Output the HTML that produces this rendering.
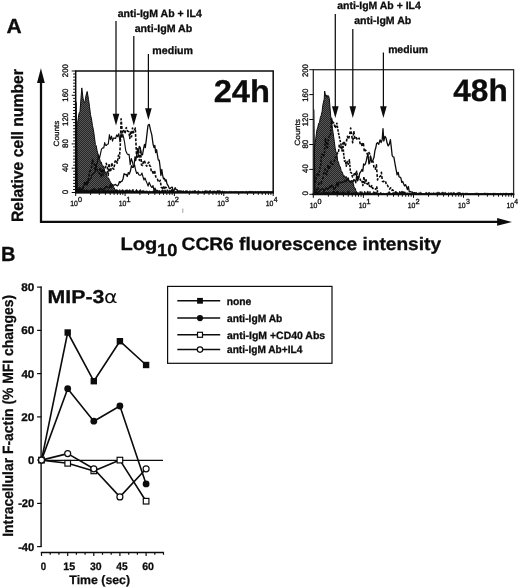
<!DOCTYPE html>
<html><head><meta charset="utf-8"><title>Figure</title>
<style>
html,body{margin:0;padding:0;background:#fff;}
body{width:520px;height:588px;overflow:hidden;}
svg{display:block;will-change:transform;}
text{text-rendering:geometricPrecision;}
</style></head>
<body>
<svg width="520" height="588" viewBox="0 0 520 588">
<defs>
<pattern id="dither" width="2" height="2" patternUnits="userSpaceOnUse">
<rect width="2" height="2" fill="#262626"/>
<rect width="1" height="1" fill="#585858"/>
<rect x="1" y="1" width="1" height="1" fill="#585858"/>
</pattern>
</defs>
<rect width="520" height="588" fill="#fff"/>
<g id="panelA-axes">
<text transform="translate(6.59 32.70) scale(1.0255 1)" font-family="Liberation Sans, sans-serif" font-size="20.5" font-weight="bold" fill="#0c0c0c" stroke="#0c0c0c" stroke-width="0.3">A</text>
<text transform="translate(0.96 260.50) scale(0.9760 1)" font-family="Liberation Sans, sans-serif" font-size="20.5" font-weight="bold" fill="#0c0c0c" stroke="#0c0c0c" stroke-width="0.3">B</text>
<path d="M41 81 L41 221.9 L498 221.9" fill="none" stroke="#0c0c0c" stroke-width="2.25"/>
<path d="M40.9 68.3 L37.0 82.9 L44.8 82.9 Z" fill="#0c0c0c"/>
<path d="M512 221.9 L497.1 218.1 L497.1 225.7 Z" fill="#0c0c0c"/>
<text transform="translate(22.90 222.07) rotate(-90) scale(0.9533 1)" font-family="Liberation Sans, sans-serif" font-size="16.5" font-weight="bold" fill="#0c0c0c" stroke="#0c0c0c" stroke-width="0.3">Relative cell number</text>
<text transform="translate(120.47 249.70) scale(1.1167 1)" font-family="Liberation Sans, sans-serif" font-size="18" font-weight="bold" fill="#0c0c0c" stroke="#0c0c0c" stroke-width="0.3">Log</text>
<text transform="translate(157.03 255.90) scale(1.0440 1)" font-family="Liberation Sans, sans-serif" font-size="17.5" font-weight="bold" fill="#0c0c0c" stroke="#0c0c0c" stroke-width="0.3">10</text>
<text transform="translate(181.60 249.70) scale(1.0631 1)" font-family="Liberation Sans, sans-serif" font-size="18" font-weight="bold" fill="#0c0c0c" stroke="#0c0c0c" stroke-width="0.3">CCR6 fluorescence intensity</text>
</g>
<g id="hist24">
<path d="M75.7 192.0 L75.9 134.8 L76.8 126.2 L77.6 123.4 L78.4 117.2 L79.2 112.8 L80.0 111.4 L81.0 98.2 L81.8 87.9 L83.0 98.1 L83.8 101.4 L84.5 102.5 L85.2 100.6 L86.0 95.6 L87.2 91.5 L88.5 99.4 L89.5 106.6 L90.5 114.8 L91.5 119.0 L92.4 125.3 L93.4 129.8 L94.4 136.8 L95.4 144.7 L96.2 145.7 L97.1 150.6 L98.0 154.1 L98.8 157.9 L99.7 158.8 L100.5 162.5 L101.4 162.2 L102.3 166.0 L103.2 165.8 L104.2 168.7 L105.1 173.4 L106.0 171.6 L106.9 176.3 L107.7 177.2 L108.6 178.0 L109.4 180.1 L110.3 181.6 L111.1 183.4 L112.0 183.8 L113.0 185.6 L114.0 187.6 L115.0 189.5 L116.0 192.0 L116.0 192.5 L75.7 192.5 Z" fill="url(#dither)" stroke="#0c0c0c" stroke-width="1.0" stroke-linejoin="round"/>
<path d="M77.0 190.8 L78.0 191.1 L79.0 188.2 L80.0 187.6 L81.0 188.8 L82.0 190.2 L83.0 188.0 L84.0 185.4 L85.0 184.7 L86.0 184.6 L87.0 185.2 L88.0 182.4 L89.0 180.5 L90.0 179.6 L91.0 178.4 L92.0 174.4 L93.0 174.1 L94.0 172.7 L95.1 172.5 L96.3 163.9 L97.4 163.0 L98.4 154.8 L99.4 158.5 L100.4 154.2 L101.5 149.1 L102.7 147.9 L103.8 147.9 L104.7 142.6 L105.5 145.3 L106.4 145.4 L107.3 144.2 L108.3 144.0 L109.4 134.7 L110.4 139.6 L111.5 136.2 L112.5 141.1 L113.5 138.0 L114.6 138.1 L115.6 138.5 L116.7 134.9 L117.7 136.7 L118.8 133.6 L120.0 141.8 L121.1 133.3 L122.0 137.4 L122.8 134.4 L123.7 137.9 L124.6 142.5 L125.7 150.5 L126.9 153.3 L128.0 154.6 L129.1 154.3 L130.2 164.6 L131.3 158.5 L132.4 161.7 L133.5 167.2 L134.6 164.9 L135.6 170.0 L136.7 173.5 L137.7 172.3 L138.8 174.8 L139.8 175.3 L140.9 175.1 L141.9 173.0 L142.9 176.5 L144.0 180.0 L145.0 177.9 L146.1 181.0 L147.1 183.4 L148.1 186.1 L149.1 182.3 L150.1 184.4 L151.0 186.4 L152.0 187.5 L153.0 185.6 L154.0 190.7 L155.0 188.0 L156.0 190.8 L157.0 190.1 L158.0 191.0" fill="none" stroke="#0c0c0c" stroke-width="1.15" stroke-linejoin="round"/>
<path d="M78.0 190.8 L78.9 189.4 L79.8 192.0 L80.8 189.8 L81.7 189.0 L82.7 188.2 L83.7 184.8 L84.7 182.8 L85.7 184.6 L86.6 180.6 L87.6 182.8 L88.6 178.5 L89.6 172.2 L90.6 169.8 L91.5 167.7 L92.5 159.6 L93.5 163.7 L94.4 164.3 L95.2 170.7 L96.1 165.1 L97.0 169.1 L98.1 172.7 L99.2 173.7 L100.2 167.8 L101.3 177.5 L102.3 168.9 L103.3 175.0 L104.3 168.6 L105.3 167.4 L106.3 163.4 L107.3 167.0 L108.2 175.4 L109.0 163.6 L109.9 171.8 L110.8 170.4 L111.8 162.8 L112.9 168.6 L113.9 169.2 L115.0 161.5 L116.0 160.0 L117.2 163.1 L118.5 155.2 L119.4 158.3 L120.3 145.3 L121.1 118.9 L122.4 132.8 L123.7 130.5 L125.0 133.5 L126.3 127.5 L127.6 131.1 L128.9 131.9 L129.8 138.5 L130.6 131.0 L131.5 136.8 L132.5 128.0 L133.5 132.7 L134.4 130.9 L135.3 128.1 L136.4 153.2 L137.4 157.1 L138.4 152.5 L139.4 160.4 L140.5 149.8 L141.5 165.0 L142.6 165.5 L143.6 160.5 L144.6 161.2 L145.7 164.5 L146.7 166.2 L147.8 163.5 L148.8 162.2 L149.7 165.8 L150.5 166.4 L151.4 172.2 L152.5 171.7 L153.6 174.4 L154.6 170.2 L155.7 176.7 L156.6 178.0 L157.4 179.0 L158.3 181.4 L159.2 182.2 L160.2 180.3 L161.3 187.3 L162.3 188.2 L163.4 186.1 L164.4 189.4 L165.3 187.3 L166.2 187.6 L167.1 190.0 L168.0 191.0" fill="none" stroke="#0c0c0c" stroke-width="1.6" stroke-dasharray="2.8 1.5" stroke-linejoin="round"/>
<path d="M78.0 192.0 L79.0 189.9 L80.0 191.2 L81.0 190.6 L82.0 190.0 L83.0 190.2 L84.0 190.2 L85.0 190.6 L86.0 191.0 L87.0 191.6 L88.0 190.7 L89.0 191.6 L90.0 190.9 L91.0 190.5 L92.0 190.1 L93.0 189.3 L94.0 188.6 L95.0 190.1 L96.0 189.9 L97.0 190.4 L98.0 190.4 L99.0 188.6 L100.0 189.2 L101.0 188.4 L102.1 190.5 L103.1 188.9 L104.2 188.9 L105.2 187.3 L106.2 186.4 L107.3 187.1 L108.3 187.4 L109.4 188.0 L110.4 184.7 L111.5 187.2 L112.5 185.1 L113.5 185.1 L114.5 185.0 L115.5 184.4 L116.5 185.5 L117.5 185.8 L118.5 184.5 L119.4 181.7 L120.2 182.5 L121.1 181.3 L122.0 181.3 L123.0 179.0 L124.1 173.7 L125.1 174.5 L126.2 174.3 L127.2 176.5 L128.3 172.6 L129.3 174.0 L130.4 171.1 L131.5 165.7 L132.4 167.4 L133.2 167.1 L134.1 165.0 L135.0 156.9 L135.8 160.5 L136.7 154.9 L137.6 148.6 L138.4 152.4 L139.3 146.4 L140.2 147.4 L141.3 154.1 L142.5 154.9 L143.6 148.3 L144.5 144.5 L145.3 147.6 L146.2 140.7 L147.1 132.9 L148.0 125.3 L149.3 124.4 L150.6 130.4 L151.8 134.8 L153.1 144.3 L154.0 147.6 L154.8 145.4 L155.7 152.6 L156.6 149.7 L157.4 155.0 L158.3 160.0 L159.2 160.2 L160.0 166.2 L160.9 175.5 L161.8 169.5 L162.6 175.2 L163.5 178.9 L164.4 178.3 L165.2 181.1 L166.1 179.7 L167.0 183.9 L168.1 185.6 L169.2 188.2 L170.2 188.7 L171.3 187.3 L172.3 187.1 L173.2 191.2 L174.2 190.4 L175.1 187.6 L176.1 189.8 L177.0 189.7 L178.0 191.0" fill="none" stroke="#0c0c0c" stroke-width="1.3" stroke-linejoin="round"/>
<path d="M75.7 192.5 L75.7 191.5 L76.6 190.3 L77.5 191.5 L78.4 190.0 L79.3 190.3 L80.2 190.9 L81.1 190.3 L82.0 190.4 L82.9 191.8 L83.8 190.5 L84.7 190.3 L85.6 190.5 L86.5 189.6 L87.4 190.0 L88.3 190.9 L89.2 191.3 L90.1 191.6 L91.0 189.8 L91.9 190.1 L92.8 190.3 L93.7 190.8 L94.6 190.6 L95.5 191.3 L96.4 190.5 L97.3 191.5 L98.2 190.3 L99.1 190.3 L100.0 190.2 L100.9 191.3 L101.8 191.7 L102.7 191.0 L103.6 190.1 L104.5 190.6 L105.4 190.0 L106.3 190.8 L107.2 190.9 L108.1 189.5 L109.0 191.5 L109.9 191.4 L110.8 190.4 L111.7 190.3 L112.6 190.8 L113.5 190.4 L114.4 190.8 L115.3 190.2 L116.2 189.6 L117.1 189.8 L118.0 190.2 L118.9 190.7 L119.8 189.4 L120.7 190.7 L121.6 190.3 L122.5 189.6 L123.4 190.1 L124.3 190.9 L125.2 190.0 L126.1 190.3 L127.0 189.5 L127.9 190.3 L128.8 190.5 L129.7 189.4 L130.6 190.5 L131.5 190.9 L132.4 189.5 L133.3 189.4 L134.2 191.5 L135.1 191.7 L136.0 189.7 L136.9 189.6 L137.8 190.9 L138.7 191.2 L139.6 190.1 L140.5 189.5 L141.4 191.3 L142.3 190.7 L143.2 190.2 L144.1 191.3 L145.0 190.8 L145.9 191.5 L146.8 190.7 L147.7 191.3 L148.6 191.7 L149.5 190.9 L150.4 191.5 L151.3 191.6 L152.2 191.5 L153.1 190.8 L154.0 191.1 L154.9 190.0 L155.8 190.8 L156.7 191.3 L157.6 191.4 L158.5 191.1 L159.4 190.0 L160.3 191.4 L161.2 190.7 L162.1 189.8 L163.0 189.7 L163.9 190.7 L164.8 189.7 L165.7 190.2 L166.6 191.3 L167.5 191.7 L168.4 191.5 L169.3 189.8 L170.2 190.9 L171.1 189.7 L172.0 189.4 L172.9 189.5 L173.8 190.7 L174.7 191.9 L175.6 191.5 L176.5 191.5 L177.4 190.9 L178.3 190.8 L179.2 190.4 L180.1 190.8 L181.0 190.4 L181.9 190.9 L182.8 191.1 L183.7 190.6 L184.6 191.5 L185.5 190.7 L186.4 190.7 L187.3 190.5 L188.2 191.8 L189.1 191.6 L190.0 190.4 L190.9 191.7 L191.8 191.2 L192.7 190.9 L193.6 191.1 L194.5 190.5 L195.4 190.4 L196.3 191.4 L197.2 191.7 L198.1 190.4 L199.0 191.2 L199.9 191.5 L200.8 191.7 L201.7 191.9 L202.6 191.0 L203.5 191.5 L204.4 191.0 L205.3 190.4 L206.2 191.1 L207.1 190.4 L208.0 191.8 L208.9 190.7 L209.8 190.7 L210.7 190.4 L211.6 191.9 L212.5 191.1 L213.4 191.0 L214.3 190.9 L215.2 191.1 L216.1 191.5 L217.0 190.5 L217.9 190.5 L218.8 190.8 L219.7 190.4 L220.6 191.0 L221.5 191.8 L222.4 190.8 L223.3 191.7 L224.2 191.4 L225.1 191.5 L226.0 191.8 L226.9 191.8 L227.8 191.9 L228.7 191.8 L229.6 191.3 L230.5 191.8 L231.4 191.4 L232.3 191.8 L233.2 191.7 L234.1 191.6 L235.0 191.7 L235.9 191.3 L236.8 191.8 L237.7 191.6 L238.6 191.8 L239.5 191.8 L240.4 191.5 L241.3 191.7 L242.2 191.6 L243.1 191.5 L244.0 191.8 L244.9 191.9 L245.8 191.5 L246.7 191.3 L247.6 191.9 L248.5 191.6 L249.4 191.3 L250.3 191.4 L251.2 191.3 L252.1 191.6 L253.0 191.3 L253.9 191.9 L254.8 191.6 L255.7 191.4 L256.6 191.7 L257.5 191.6 L258.4 191.6 L259.3 191.7 L260.2 191.4 L261.1 191.3 L262.0 191.8 L262.9 191.7 L263.8 191.4 L264.7 191.5 L265.6 191.4 L266.5 191.5 L267.4 191.4 L268.3 191.4 L269.2 191.5 L270.1 191.7 L271.0 191.8 L271.9 191.4 L272.8 191.4 L273.2 192.5 Z" fill="#0c0c0c" stroke="#0c0c0c" stroke-width="0.6"/>
<path d="M75.7 100.0 L76.8 103.0 L77.9 192.5 L75.7 192.5 Z" fill="#0c0c0c"/>
<rect x="75.7" y="71.0" width="197.5" height="121.5" fill="none" stroke="#0c0c0c" stroke-width="1.5"/>
<line x1="75.0" y1="192.5" x2="273.9" y2="192.5" stroke="#0c0c0c" stroke-width="2.1"/>
<line x1="71.7" y1="192.5" x2="75.7" y2="192.5" stroke="#0c0c0c" stroke-width="1.0"/>
<line x1="73.1" y1="189.5" x2="75.7" y2="189.5" stroke="#0c0c0c" stroke-width="1.0"/>
<line x1="73.1" y1="186.4" x2="75.7" y2="186.4" stroke="#0c0c0c" stroke-width="1.0"/>
<line x1="73.1" y1="183.4" x2="75.7" y2="183.4" stroke="#0c0c0c" stroke-width="1.0"/>
<line x1="73.1" y1="180.3" x2="75.7" y2="180.3" stroke="#0c0c0c" stroke-width="1.0"/>
<line x1="73.1" y1="177.3" x2="75.7" y2="177.3" stroke="#0c0c0c" stroke-width="1.0"/>
<line x1="73.1" y1="174.3" x2="75.7" y2="174.3" stroke="#0c0c0c" stroke-width="1.0"/>
<line x1="73.1" y1="171.2" x2="75.7" y2="171.2" stroke="#0c0c0c" stroke-width="1.0"/>
<line x1="71.7" y1="168.2" x2="75.7" y2="168.2" stroke="#0c0c0c" stroke-width="1.0"/>
<line x1="73.1" y1="165.2" x2="75.7" y2="165.2" stroke="#0c0c0c" stroke-width="1.0"/>
<line x1="73.1" y1="162.1" x2="75.7" y2="162.1" stroke="#0c0c0c" stroke-width="1.0"/>
<line x1="73.1" y1="159.1" x2="75.7" y2="159.1" stroke="#0c0c0c" stroke-width="1.0"/>
<line x1="73.1" y1="156.1" x2="75.7" y2="156.1" stroke="#0c0c0c" stroke-width="1.0"/>
<line x1="73.1" y1="153.0" x2="75.7" y2="153.0" stroke="#0c0c0c" stroke-width="1.0"/>
<line x1="73.1" y1="150.0" x2="75.7" y2="150.0" stroke="#0c0c0c" stroke-width="1.0"/>
<line x1="73.1" y1="146.9" x2="75.7" y2="146.9" stroke="#0c0c0c" stroke-width="1.0"/>
<line x1="71.7" y1="143.9" x2="75.7" y2="143.9" stroke="#0c0c0c" stroke-width="1.0"/>
<line x1="73.1" y1="140.9" x2="75.7" y2="140.9" stroke="#0c0c0c" stroke-width="1.0"/>
<line x1="73.1" y1="137.8" x2="75.7" y2="137.8" stroke="#0c0c0c" stroke-width="1.0"/>
<line x1="73.1" y1="134.8" x2="75.7" y2="134.8" stroke="#0c0c0c" stroke-width="1.0"/>
<line x1="73.1" y1="131.8" x2="75.7" y2="131.8" stroke="#0c0c0c" stroke-width="1.0"/>
<line x1="73.1" y1="128.7" x2="75.7" y2="128.7" stroke="#0c0c0c" stroke-width="1.0"/>
<line x1="73.1" y1="125.7" x2="75.7" y2="125.7" stroke="#0c0c0c" stroke-width="1.0"/>
<line x1="73.1" y1="122.6" x2="75.7" y2="122.6" stroke="#0c0c0c" stroke-width="1.0"/>
<line x1="71.7" y1="119.6" x2="75.7" y2="119.6" stroke="#0c0c0c" stroke-width="1.0"/>
<line x1="73.1" y1="116.6" x2="75.7" y2="116.6" stroke="#0c0c0c" stroke-width="1.0"/>
<line x1="73.1" y1="113.5" x2="75.7" y2="113.5" stroke="#0c0c0c" stroke-width="1.0"/>
<line x1="73.1" y1="110.5" x2="75.7" y2="110.5" stroke="#0c0c0c" stroke-width="1.0"/>
<line x1="73.1" y1="107.5" x2="75.7" y2="107.5" stroke="#0c0c0c" stroke-width="1.0"/>
<line x1="73.1" y1="104.4" x2="75.7" y2="104.4" stroke="#0c0c0c" stroke-width="1.0"/>
<line x1="73.1" y1="101.4" x2="75.7" y2="101.4" stroke="#0c0c0c" stroke-width="1.0"/>
<line x1="73.1" y1="98.3" x2="75.7" y2="98.3" stroke="#0c0c0c" stroke-width="1.0"/>
<line x1="71.7" y1="95.3" x2="75.7" y2="95.3" stroke="#0c0c0c" stroke-width="1.0"/>
<line x1="73.1" y1="92.3" x2="75.7" y2="92.3" stroke="#0c0c0c" stroke-width="1.0"/>
<line x1="73.1" y1="89.2" x2="75.7" y2="89.2" stroke="#0c0c0c" stroke-width="1.0"/>
<line x1="73.1" y1="86.2" x2="75.7" y2="86.2" stroke="#0c0c0c" stroke-width="1.0"/>
<line x1="73.1" y1="83.2" x2="75.7" y2="83.2" stroke="#0c0c0c" stroke-width="1.0"/>
<line x1="73.1" y1="80.1" x2="75.7" y2="80.1" stroke="#0c0c0c" stroke-width="1.0"/>
<line x1="73.1" y1="77.1" x2="75.7" y2="77.1" stroke="#0c0c0c" stroke-width="1.0"/>
<line x1="73.1" y1="74.0" x2="75.7" y2="74.0" stroke="#0c0c0c" stroke-width="1.0"/>
<line x1="71.7" y1="71.0" x2="75.7" y2="71.0" stroke="#0c0c0c" stroke-width="1.0"/>
<text transform="translate(68.40 194.21) rotate(-90) scale(0.9967 1)" font-family="Liberation Sans, sans-serif" font-size="8.0" fill="#0c0c0c" stroke="#0c0c0c" stroke-width="0.3">0</text>
<text transform="translate(68.40 172.02) rotate(-90) scale(0.9791 1)" font-family="Liberation Sans, sans-serif" font-size="8.0" fill="#0c0c0c" stroke="#0c0c0c" stroke-width="0.3">40</text>
<text transform="translate(68.40 147.89) rotate(-90) scale(0.9939 1)" font-family="Liberation Sans, sans-serif" font-size="8.0" fill="#0c0c0c" stroke="#0c0c0c" stroke-width="0.3">80</text>
<text transform="translate(68.40 125.94) rotate(-90) scale(0.9859 1)" font-family="Liberation Sans, sans-serif" font-size="8.0" fill="#0c0c0c" stroke="#0c0c0c" stroke-width="0.3">120</text>
<text transform="translate(68.40 101.68) rotate(-90) scale(0.9859 1)" font-family="Liberation Sans, sans-serif" font-size="8.0" fill="#0c0c0c" stroke="#0c0c0c" stroke-width="0.3">160</text>
<text transform="translate(68.40 77.16) rotate(-90) scale(0.9663 1)" font-family="Liberation Sans, sans-serif" font-size="8.0" fill="#0c0c0c" stroke="#0c0c0c" stroke-width="0.3">200</text>
<text transform="translate(59.20 146.40) rotate(-90) scale(1.0695 1)" font-family="Liberation Sans, sans-serif" font-size="7.6" fill="#0c0c0c" stroke="#0c0c0c" stroke-width="0.25">Counts</text>
<line x1="75.7" y1="192.5" x2="75.7" y2="196.0" stroke="#0c0c0c" stroke-width="1.0"/>
<line x1="90.6" y1="192.5" x2="90.6" y2="194.9" stroke="#0c0c0c" stroke-width="1.0"/>
<line x1="99.3" y1="192.5" x2="99.3" y2="194.9" stroke="#0c0c0c" stroke-width="1.0"/>
<line x1="105.4" y1="192.5" x2="105.4" y2="194.9" stroke="#0c0c0c" stroke-width="1.0"/>
<line x1="110.2" y1="192.5" x2="110.2" y2="194.9" stroke="#0c0c0c" stroke-width="1.0"/>
<line x1="114.1" y1="192.5" x2="114.1" y2="194.9" stroke="#0c0c0c" stroke-width="1.0"/>
<line x1="117.4" y1="192.5" x2="117.4" y2="194.9" stroke="#0c0c0c" stroke-width="1.0"/>
<line x1="120.3" y1="192.5" x2="120.3" y2="194.9" stroke="#0c0c0c" stroke-width="1.0"/>
<line x1="122.8" y1="192.5" x2="122.8" y2="194.9" stroke="#0c0c0c" stroke-width="1.0"/>
<line x1="125.1" y1="192.5" x2="125.1" y2="196.0" stroke="#0c0c0c" stroke-width="1.0"/>
<line x1="139.9" y1="192.5" x2="139.9" y2="194.9" stroke="#0c0c0c" stroke-width="1.0"/>
<line x1="148.6" y1="192.5" x2="148.6" y2="194.9" stroke="#0c0c0c" stroke-width="1.0"/>
<line x1="154.8" y1="192.5" x2="154.8" y2="194.9" stroke="#0c0c0c" stroke-width="1.0"/>
<line x1="159.6" y1="192.5" x2="159.6" y2="194.9" stroke="#0c0c0c" stroke-width="1.0"/>
<line x1="163.5" y1="192.5" x2="163.5" y2="194.9" stroke="#0c0c0c" stroke-width="1.0"/>
<line x1="166.8" y1="192.5" x2="166.8" y2="194.9" stroke="#0c0c0c" stroke-width="1.0"/>
<line x1="169.7" y1="192.5" x2="169.7" y2="194.9" stroke="#0c0c0c" stroke-width="1.0"/>
<line x1="172.2" y1="192.5" x2="172.2" y2="194.9" stroke="#0c0c0c" stroke-width="1.0"/>
<line x1="174.4" y1="192.5" x2="174.4" y2="196.0" stroke="#0c0c0c" stroke-width="1.0"/>
<line x1="189.3" y1="192.5" x2="189.3" y2="194.9" stroke="#0c0c0c" stroke-width="1.0"/>
<line x1="198.0" y1="192.5" x2="198.0" y2="194.9" stroke="#0c0c0c" stroke-width="1.0"/>
<line x1="204.2" y1="192.5" x2="204.2" y2="194.9" stroke="#0c0c0c" stroke-width="1.0"/>
<line x1="209.0" y1="192.5" x2="209.0" y2="194.9" stroke="#0c0c0c" stroke-width="1.0"/>
<line x1="212.9" y1="192.5" x2="212.9" y2="194.9" stroke="#0c0c0c" stroke-width="1.0"/>
<line x1="216.2" y1="192.5" x2="216.2" y2="194.9" stroke="#0c0c0c" stroke-width="1.0"/>
<line x1="219.0" y1="192.5" x2="219.0" y2="194.9" stroke="#0c0c0c" stroke-width="1.0"/>
<line x1="221.6" y1="192.5" x2="221.6" y2="194.9" stroke="#0c0c0c" stroke-width="1.0"/>
<line x1="223.8" y1="192.5" x2="223.8" y2="196.0" stroke="#0c0c0c" stroke-width="1.0"/>
<line x1="238.7" y1="192.5" x2="238.7" y2="194.9" stroke="#0c0c0c" stroke-width="1.0"/>
<line x1="247.4" y1="192.5" x2="247.4" y2="194.9" stroke="#0c0c0c" stroke-width="1.0"/>
<line x1="253.6" y1="192.5" x2="253.6" y2="194.9" stroke="#0c0c0c" stroke-width="1.0"/>
<line x1="258.3" y1="192.5" x2="258.3" y2="194.9" stroke="#0c0c0c" stroke-width="1.0"/>
<line x1="262.2" y1="192.5" x2="262.2" y2="194.9" stroke="#0c0c0c" stroke-width="1.0"/>
<line x1="265.6" y1="192.5" x2="265.6" y2="194.9" stroke="#0c0c0c" stroke-width="1.0"/>
<line x1="268.4" y1="192.5" x2="268.4" y2="194.9" stroke="#0c0c0c" stroke-width="1.0"/>
<line x1="270.9" y1="192.5" x2="270.9" y2="194.9" stroke="#0c0c0c" stroke-width="1.0"/>
<line x1="273.2" y1="192.5" x2="273.2" y2="196.0" stroke="#0c0c0c" stroke-width="1.0"/>
<text transform="translate(70.29 205.90) scale(0.9049 1)" font-family="Liberation Sans, sans-serif" font-size="7.6" fill="#0c0c0c" stroke="#0c0c0c" stroke-width="0.3">10</text>
<text transform="translate(78.10 201.90) scale(0.9714 1)" font-family="Liberation Sans, sans-serif" font-size="7.4" fill="#0c0c0c" stroke="#0c0c0c" stroke-width="0.3">0</text>
<text transform="translate(118.67 205.90) scale(0.9049 1)" font-family="Liberation Sans, sans-serif" font-size="7.6" fill="#0c0c0c" stroke="#0c0c0c" stroke-width="0.3">10</text>
<text transform="translate(126.17 201.90) scale(1.0667 1)" font-family="Liberation Sans, sans-serif" font-size="7.4" fill="#0c0c0c" stroke="#0c0c0c" stroke-width="0.3">1</text>
<text transform="translate(167.14 205.90) scale(0.9049 1)" font-family="Liberation Sans, sans-serif" font-size="7.6" fill="#0c0c0c" stroke="#0c0c0c" stroke-width="0.3">10</text>
<text transform="translate(174.87 201.90) scale(1.0074 1)" font-family="Liberation Sans, sans-serif" font-size="7.4" fill="#0c0c0c" stroke="#0c0c0c" stroke-width="0.3">2</text>
<text transform="translate(217.22 205.90) scale(0.9049 1)" font-family="Liberation Sans, sans-serif" font-size="7.6" fill="#0c0c0c" stroke="#0c0c0c" stroke-width="0.3">10</text>
<text transform="translate(225.09 201.90) scale(0.9544 1)" font-family="Liberation Sans, sans-serif" font-size="7.4" fill="#0c0c0c" stroke="#0c0c0c" stroke-width="0.3">3</text>
<text transform="translate(265.79 205.90) scale(0.9049 1)" font-family="Liberation Sans, sans-serif" font-size="7.6" fill="#0c0c0c" stroke="#0c0c0c" stroke-width="0.3">10</text>
<text transform="translate(273.73 201.90) scale(0.9220 1)" font-family="Liberation Sans, sans-serif" font-size="7.4" fill="#0c0c0c" stroke="#0c0c0c" stroke-width="0.3">4</text>
<text transform="translate(213.70 101.80) scale(1.0368 1)" font-family="Liberation Sans, sans-serif" font-size="31.5" font-weight="bold" fill="#0c0c0c" stroke="#0c0c0c" stroke-width="0.3">24h</text>
<line x1="116.0" y1="21.0" x2="116.0" y2="117.5" stroke="#0c0c0c" stroke-width="1.25"/>
<path d="M116.0 125.5 L112.7 113.7 L119.3 113.7 Z" fill="#0c0c0c"/>
<line x1="133.8" y1="36.0" x2="133.8" y2="117.5" stroke="#0c0c0c" stroke-width="1.25"/>
<path d="M133.8 125.5 L130.5 113.7 L137.1 113.7 Z" fill="#0c0c0c"/>
<line x1="148.4" y1="54.0" x2="148.4" y2="112.0" stroke="#0c0c0c" stroke-width="1.25"/>
<path d="M148.4 120.0 L145.1 108.2 L151.7 108.2 Z" fill="#0c0c0c"/>
<text transform="translate(117.69 16.70) scale(0.9933 1)" font-family="Liberation Sans, sans-serif" font-size="10.6" font-weight="bold" fill="#0c0c0c" stroke="#0c0c0c" stroke-width="0.3">anti-IgM Ab + IL4</text>
<text transform="translate(134.69 32.00) scale(1.0055 1)" font-family="Liberation Sans, sans-serif" font-size="10.6" font-weight="bold" fill="#0c0c0c" stroke="#0c0c0c" stroke-width="0.3">anti-IgM Ab</text>
<text transform="translate(152.31 53.80) scale(1.0016 1)" font-family="Liberation Sans, sans-serif" font-size="10.6" font-weight="bold" fill="#0c0c0c" stroke="#0c0c0c" stroke-width="0.3">medium</text>
<line x1="182.8" y1="208.5" x2="182.8" y2="212.8" stroke="#999" stroke-width="0.9"/>
</g>
<g id="hist48">
<path d="M313.7 193.8 L313.9 150.5 L315.2 142.9 L316.1 136.0 L316.9 130.1 L317.8 127.2 L318.7 123.2 L319.5 122.3 L320.4 117.3 L321.2 115.4 L322.1 111.4 L323.0 104.2 L324.2 99.2 L324.7 91.1 L325.5 95.9 L326.2 94.9 L327.0 97.7 L327.8 95.3 L328.5 95.9 L329.3 98.4 L330.1 108.8 L330.8 117.5 L331.7 122.6 L332.5 128.7 L333.4 135.0 L334.3 141.4 L335.1 147.8 L336.0 152.3 L336.8 153.4 L337.7 161.0 L338.5 162.1 L339.4 166.0 L340.2 166.5 L341.1 170.5 L342.0 171.8 L342.9 174.0 L343.7 177.2 L344.6 175.7 L345.5 177.7 L346.3 176.5 L347.2 178.6 L348.1 180.2 L348.9 180.2 L349.8 181.4 L350.7 181.9 L351.6 181.6 L352.4 183.8 L353.3 183.3 L354.1 187.5 L355.0 187.9 L355.9 190.7 L356.7 192.4 L357.5 194.2 L357.5 194.3 L313.7 194.3 Z" fill="url(#dither)" stroke="#0c0c0c" stroke-width="1.0" stroke-linejoin="round"/>
<path d="M315.4 182.9 L316.5 175.4 L317.6 173.9 L318.7 175.6 L319.7 169.1 L320.6 165.6 L321.6 154.4 L322.5 154.3 L323.5 156.4 L324.4 154.2 L325.4 138.6 L326.4 143.1 L327.3 148.8 L328.4 138.1 L329.5 136.3 L330.5 135.9 L331.6 118.4 L332.5 123.2 L333.4 122.4 L334.3 124.7 L335.1 127.9 L336.0 126.1 L336.9 123.3 L337.7 128.8 L338.8 134.6 L340.0 140.2 L341.1 144.9 L342.0 151.0 L342.8 143.3 L343.7 154.3 L344.6 161.3 L345.4 160.6 L346.3 166.2 L347.2 161.6 L348.3 164.2 L349.4 159.7 L350.4 172.0 L351.5 173.1 L352.5 177.0 L353.6 175.7 L354.6 172.6 L355.7 174.7 L356.7 171.2 L357.7 178.8 L358.8 176.7 L359.8 178.6 L360.9 180.9 L361.9 180.7 L362.9 185.5 L363.9 176.9 L364.9 183.3 L365.8 178.7 L366.8 183.1 L367.8 185.1 L368.8 182.7 L369.8 187.2 L370.8 187.3 L371.8 185.6 L372.7 188.4 L373.7 188.2 L374.7 188.3 L375.7 189.3 L376.8 186.9 L377.8 193.8 L378.9 193.8 L379.9 193.8 L380.9 193.8 L382.0 193.6" fill="none" stroke="#0c0c0c" stroke-width="1.6" stroke-dasharray="2.4 1.2" stroke-linejoin="round"/>
<path d="M316.0 191.5 L317.0 188.1 L318.0 189.4 L319.0 182.9 L320.0 182.6 L321.0 183.6 L322.0 180.6 L323.0 177.5 L324.0 172.3 L325.0 169.1 L326.0 173.6 L327.0 174.7 L328.0 164.8 L329.0 169.7 L330.0 166.5 L331.0 161.3 L332.0 164.1 L333.0 164.5 L334.0 163.5 L335.0 157.4 L336.1 157.8 L337.2 152.9 L338.3 153.7 L339.4 144.1 L340.3 147.9 L341.1 149.4 L342.0 146.8 L343.1 145.0 L344.1 141.0 L345.2 146.3 L346.3 142.0 L347.4 136.3 L348.5 139.4 L349.6 134.9 L350.7 128.0 L351.7 135.1 L352.7 142.8 L353.8 131.1 L354.8 138.3 L355.8 136.7 L356.9 138.9 L358.0 140.1 L359.1 138.1 L360.2 144.3 L361.2 143.1 L362.3 146.8 L363.3 142.4 L364.4 152.1 L365.4 150.0 L366.5 151.5 L367.5 154.6 L368.6 152.0 L369.7 153.8 L370.8 159.1 L372.0 160.7 L373.1 161.9 L374.2 168.7 L375.3 169.2 L376.4 164.9 L377.5 179.9 L378.5 176.9 L379.5 176.8 L380.5 176.1 L381.4 172.4 L382.4 181.3 L383.4 181.7 L384.4 180.9 L385.4 180.5 L386.5 185.5 L387.5 185.2 L388.6 187.9 L389.6 189.1 L390.7 187.8 L391.7 190.3 L392.8 189.8 L393.8 191.4 L394.9 191.1 L395.9 192.4 L397.0 193.6" fill="none" stroke="#0c0c0c" stroke-width="1.6" stroke-dasharray="2.8 1.9" stroke-linejoin="round"/>
<path d="M316.0 193.0 L317.1 192.6 L318.2 191.7 L319.3 191.4 L320.4 189.7 L321.4 188.9 L322.5 188.8 L323.5 189.9 L324.6 190.6 L325.6 188.3 L326.6 187.7 L327.7 189.5 L328.7 188.4 L329.8 186.0 L330.8 187.8 L331.8 185.0 L332.9 185.9 L333.9 189.5 L334.9 189.1 L336.0 185.6 L337.0 182.4 L338.0 186.4 L339.0 182.2 L340.1 182.7 L341.1 182.9 L342.1 182.0 L343.1 182.3 L344.1 181.8 L345.2 180.3 L346.2 181.7 L347.2 179.0 L348.2 178.0 L349.1 181.3 L350.1 182.1 L351.0 180.8 L352.0 180.6 L352.9 182.5 L353.9 179.5 L354.8 180.2 L355.8 182.8 L356.7 175.2 L357.7 180.8 L358.8 177.2 L359.8 173.0 L360.9 171.7 L361.9 169.4 L362.8 171.3 L363.6 164.0 L364.5 165.1 L365.4 163.9 L366.3 160.7 L367.1 156.7 L368.0 153.9 L368.9 163.9 L369.7 163.1 L370.6 156.0 L371.7 162.2 L372.9 160.3 L374.0 157.3 L374.9 150.6 L375.8 147.8 L376.6 143.4 L377.5 142.7 L378.8 144.2 L380.0 139.8 L381.1 142.6 L382.2 139.7 L383.0 128.6 L383.8 141.0 L385.0 136.3 L386.1 138.3 L387.2 143.3 L388.2 145.9 L389.3 144.1 L390.4 139.6 L391.3 147.3 L392.2 155.7 L393.1 156.9 L393.9 157.1 L394.8 162.6 L395.9 168.7 L397.1 174.8 L398.2 172.3 L399.1 176.9 L399.9 177.1 L400.8 177.7 L401.8 182.3 L402.7 181.5 L403.6 183.7 L404.6 185.9 L405.6 184.7 L406.5 186.8 L407.4 189.6 L408.4 186.5 L409.3 191.9 L410.3 191.5 L411.2 192.2 L412.2 191.9 L413.1 193.5 L414.1 192.7 L415.0 192.7 L416.0 193.6" fill="none" stroke="#0c0c0c" stroke-width="1.3" stroke-linejoin="round"/>
<path d="M313.3 194.3 L313.3 191.3 L314.2 192.7 L315.1 191.6 L316.0 193.1 L316.9 192.4 L317.8 193.0 L318.7 192.3 L319.6 193.5 L320.5 192.6 L321.4 192.9 L322.3 193.6 L323.2 191.6 L324.1 191.3 L325.0 193.3 L325.9 192.1 L326.8 192.3 L327.7 192.6 L328.6 192.2 L329.5 192.0 L330.4 193.0 L331.3 192.8 L332.2 192.4 L333.1 191.1 L334.0 191.3 L334.9 191.7 L335.8 192.5 L336.7 191.3 L337.6 191.2 L338.5 191.4 L339.4 193.2 L340.3 192.6 L341.2 193.1 L342.1 192.5 L343.0 191.5 L343.9 192.4 L344.8 192.8 L345.7 193.3 L346.6 193.3 L347.5 191.6 L348.4 191.2 L349.3 191.4 L350.2 193.7 L351.1 193.0 L352.0 193.3 L352.9 192.5 L353.8 193.2 L354.7 192.4 L355.6 192.5 L356.5 192.1 L357.4 192.4 L358.3 192.4 L359.2 193.6 L360.1 191.2 L361.0 192.6 L361.9 191.4 L362.8 192.9 L363.7 193.5 L364.6 191.1 L365.5 192.4 L366.4 193.3 L367.3 191.2 L368.2 191.3 L369.1 193.4 L370.0 191.2 L370.9 193.4 L371.8 193.4 L372.7 193.3 L373.6 191.4 L374.5 192.1 L375.4 192.3 L376.3 191.9 L377.2 192.9 L378.1 193.5 L379.0 193.5 L379.9 193.1 L380.8 192.2 L381.7 193.5 L382.6 193.6 L383.5 193.2 L384.4 193.7 L385.3 193.6 L386.2 193.3 L387.1 193.4 L388.0 192.8 L388.9 191.5 L389.8 192.0 L390.7 193.7 L391.6 193.5 L392.5 192.8 L393.4 192.5 L394.3 192.5 L395.2 192.3 L396.1 191.8 L397.0 192.0 L397.9 193.1 L398.8 193.0 L399.7 191.1 L400.6 192.3 L401.5 191.3 L402.4 191.3 L403.3 191.6 L404.2 192.1 L405.1 191.8 L406.0 192.9 L406.9 193.2 L407.8 192.7 L408.7 193.2 L409.6 193.2 L410.5 193.4 L411.4 193.2 L412.3 193.7 L413.2 193.3 L414.1 192.5 L415.0 193.6 L415.9 192.6 L416.8 192.6 L417.7 193.4 L418.6 192.9 L419.5 192.7 L420.4 192.2 L421.3 192.7 L422.2 193.5 L423.1 193.6 L424.0 193.4 L424.9 193.5 L425.8 192.4 L426.7 192.3 L427.6 193.5 L428.5 192.5 L429.4 192.3 L430.3 193.3 L431.2 192.9 L432.1 193.3 L433.0 193.0 L433.9 192.5 L434.8 193.4 L435.7 192.9 L436.6 192.7 L437.5 192.3 L438.4 192.2 L439.3 192.3 L440.2 193.1 L441.1 193.1 L442.0 192.2 L442.9 192.3 L443.8 192.4 L444.7 192.7 L445.6 192.2 L446.5 193.5 L447.4 193.4 L448.3 192.5 L449.2 193.3 L450.1 192.7 L451.0 192.8 L451.9 192.7 L452.8 193.3 L453.7 192.2 L454.6 192.8 L455.5 193.7 L456.4 193.2 L457.3 192.9 L458.2 192.3 L459.1 192.7 L460.0 192.2 L460.9 193.2 L461.8 193.6 L462.7 193.0 L463.6 193.2 L464.5 193.4 L465.4 193.2 L466.3 193.2 L467.2 193.2 L468.1 193.4 L469.0 193.7 L469.9 193.4 L470.8 193.6 L471.7 193.5 L472.6 193.6 L473.5 193.5 L474.4 193.4 L475.3 193.3 L476.2 193.1 L477.1 193.2 L478.0 193.2 L478.9 193.6 L479.8 193.4 L480.7 193.5 L481.6 193.4 L482.5 193.6 L483.4 193.4 L484.3 193.1 L485.2 193.2 L486.1 193.2 L487.0 193.6 L487.9 193.2 L488.8 193.5 L489.7 193.5 L490.6 193.4 L491.5 193.5 L492.4 193.5 L493.3 193.2 L494.2 193.3 L495.1 193.4 L496.0 193.4 L496.9 193.7 L497.8 193.6 L498.7 193.7 L499.6 193.5 L500.5 193.2 L501.4 193.7 L502.3 193.5 L503.2 193.2 L504.1 193.6 L505.0 193.4 L505.9 193.2 L506.8 193.2 L507.7 193.5 L508.6 193.5 L509.5 193.5 L510.4 193.5 L511.3 193.1 L512.2 193.4 L513.1 193.4 L513.6 194.3 Z" fill="#0c0c0c" stroke="#0c0c0c" stroke-width="0.6"/>
<path d="M313.3 107.0 L314.4 110.0 L315.5 194.3 L313.3 194.3 Z" fill="#0c0c0c"/>
<rect x="313.3" y="69.7" width="200.3" height="124.6" fill="none" stroke="#2a2a2a" stroke-width="1.3"/>
<line x1="312.6" y1="194.3" x2="514.3" y2="194.3" stroke="#0c0c0c" stroke-width="2.1"/>
<line x1="309.3" y1="194.3" x2="313.3" y2="194.3" stroke="#0c0c0c" stroke-width="1.0"/>
<line x1="309.3" y1="169.4" x2="313.3" y2="169.4" stroke="#0c0c0c" stroke-width="1.0"/>
<line x1="309.3" y1="144.5" x2="313.3" y2="144.5" stroke="#0c0c0c" stroke-width="1.0"/>
<line x1="309.3" y1="119.5" x2="313.3" y2="119.5" stroke="#0c0c0c" stroke-width="1.0"/>
<line x1="309.3" y1="94.6" x2="313.3" y2="94.6" stroke="#0c0c0c" stroke-width="1.0"/>
<line x1="309.3" y1="69.7" x2="313.3" y2="69.7" stroke="#0c0c0c" stroke-width="1.0"/>
<text transform="translate(308.30 195.41) rotate(-90) scale(0.9967 1)" font-family="Liberation Sans, sans-serif" font-size="8.0" fill="#0c0c0c" stroke="#0c0c0c" stroke-width="0.3">0</text>
<text transform="translate(308.30 172.96) rotate(-90) scale(0.9791 1)" font-family="Liberation Sans, sans-serif" font-size="8.0" fill="#0c0c0c" stroke="#0c0c0c" stroke-width="0.3">40</text>
<text transform="translate(308.30 148.57) rotate(-90) scale(0.9939 1)" font-family="Liberation Sans, sans-serif" font-size="8.0" fill="#0c0c0c" stroke="#0c0c0c" stroke-width="0.3">80</text>
<text transform="translate(308.30 126.36) rotate(-90) scale(0.9859 1)" font-family="Liberation Sans, sans-serif" font-size="8.0" fill="#0c0c0c" stroke="#0c0c0c" stroke-width="0.3">120</text>
<text transform="translate(308.30 101.84) rotate(-90) scale(0.9859 1)" font-family="Liberation Sans, sans-serif" font-size="8.0" fill="#0c0c0c" stroke="#0c0c0c" stroke-width="0.3">160</text>
<text transform="translate(308.30 77.06) rotate(-90) scale(0.9663 1)" font-family="Liberation Sans, sans-serif" font-size="8.0" fill="#0c0c0c" stroke="#0c0c0c" stroke-width="0.3">200</text>
<text transform="translate(299.50 145.82) rotate(-90) scale(1.1162 1)" font-family="Liberation Sans, sans-serif" font-size="7.6" fill="#0c0c0c" stroke="#0c0c0c" stroke-width="0.25">Counts</text>
<line x1="313.3" y1="194.3" x2="313.3" y2="197.8" stroke="#0c0c0c" stroke-width="1.0"/>
<line x1="328.4" y1="194.3" x2="328.4" y2="196.7" stroke="#0c0c0c" stroke-width="1.0"/>
<line x1="337.2" y1="194.3" x2="337.2" y2="196.7" stroke="#0c0c0c" stroke-width="1.0"/>
<line x1="343.4" y1="194.3" x2="343.4" y2="196.7" stroke="#0c0c0c" stroke-width="1.0"/>
<line x1="348.3" y1="194.3" x2="348.3" y2="196.7" stroke="#0c0c0c" stroke-width="1.0"/>
<line x1="352.3" y1="194.3" x2="352.3" y2="196.7" stroke="#0c0c0c" stroke-width="1.0"/>
<line x1="355.6" y1="194.3" x2="355.6" y2="196.7" stroke="#0c0c0c" stroke-width="1.0"/>
<line x1="358.5" y1="194.3" x2="358.5" y2="196.7" stroke="#0c0c0c" stroke-width="1.0"/>
<line x1="361.1" y1="194.3" x2="361.1" y2="196.7" stroke="#0c0c0c" stroke-width="1.0"/>
<line x1="363.4" y1="194.3" x2="363.4" y2="197.8" stroke="#0c0c0c" stroke-width="1.0"/>
<line x1="378.4" y1="194.3" x2="378.4" y2="196.7" stroke="#0c0c0c" stroke-width="1.0"/>
<line x1="387.3" y1="194.3" x2="387.3" y2="196.7" stroke="#0c0c0c" stroke-width="1.0"/>
<line x1="393.5" y1="194.3" x2="393.5" y2="196.7" stroke="#0c0c0c" stroke-width="1.0"/>
<line x1="398.4" y1="194.3" x2="398.4" y2="196.7" stroke="#0c0c0c" stroke-width="1.0"/>
<line x1="402.3" y1="194.3" x2="402.3" y2="196.7" stroke="#0c0c0c" stroke-width="1.0"/>
<line x1="405.7" y1="194.3" x2="405.7" y2="196.7" stroke="#0c0c0c" stroke-width="1.0"/>
<line x1="408.6" y1="194.3" x2="408.6" y2="196.7" stroke="#0c0c0c" stroke-width="1.0"/>
<line x1="411.2" y1="194.3" x2="411.2" y2="196.7" stroke="#0c0c0c" stroke-width="1.0"/>
<line x1="413.5" y1="194.3" x2="413.5" y2="197.8" stroke="#0c0c0c" stroke-width="1.0"/>
<line x1="428.5" y1="194.3" x2="428.5" y2="196.7" stroke="#0c0c0c" stroke-width="1.0"/>
<line x1="437.3" y1="194.3" x2="437.3" y2="196.7" stroke="#0c0c0c" stroke-width="1.0"/>
<line x1="443.6" y1="194.3" x2="443.6" y2="196.7" stroke="#0c0c0c" stroke-width="1.0"/>
<line x1="448.5" y1="194.3" x2="448.5" y2="196.7" stroke="#0c0c0c" stroke-width="1.0"/>
<line x1="452.4" y1="194.3" x2="452.4" y2="196.7" stroke="#0c0c0c" stroke-width="1.0"/>
<line x1="455.8" y1="194.3" x2="455.8" y2="196.7" stroke="#0c0c0c" stroke-width="1.0"/>
<line x1="458.7" y1="194.3" x2="458.7" y2="196.7" stroke="#0c0c0c" stroke-width="1.0"/>
<line x1="461.2" y1="194.3" x2="461.2" y2="196.7" stroke="#0c0c0c" stroke-width="1.0"/>
<line x1="463.5" y1="194.3" x2="463.5" y2="197.8" stroke="#0c0c0c" stroke-width="1.0"/>
<line x1="478.6" y1="194.3" x2="478.6" y2="196.7" stroke="#0c0c0c" stroke-width="1.0"/>
<line x1="487.4" y1="194.3" x2="487.4" y2="196.7" stroke="#0c0c0c" stroke-width="1.0"/>
<line x1="493.7" y1="194.3" x2="493.7" y2="196.7" stroke="#0c0c0c" stroke-width="1.0"/>
<line x1="498.5" y1="194.3" x2="498.5" y2="196.7" stroke="#0c0c0c" stroke-width="1.0"/>
<line x1="502.5" y1="194.3" x2="502.5" y2="196.7" stroke="#0c0c0c" stroke-width="1.0"/>
<line x1="505.8" y1="194.3" x2="505.8" y2="196.7" stroke="#0c0c0c" stroke-width="1.0"/>
<line x1="508.7" y1="194.3" x2="508.7" y2="196.7" stroke="#0c0c0c" stroke-width="1.0"/>
<line x1="511.3" y1="194.3" x2="511.3" y2="196.7" stroke="#0c0c0c" stroke-width="1.0"/>
<line x1="513.6" y1="194.3" x2="513.6" y2="197.8" stroke="#0c0c0c" stroke-width="1.0"/>
<text transform="translate(309.69 207.70) scale(0.9049 1)" font-family="Liberation Sans, sans-serif" font-size="7.6" fill="#0c0c0c" stroke="#0c0c0c" stroke-width="0.3">10</text>
<text transform="translate(317.50 203.70) scale(0.9714 1)" font-family="Liberation Sans, sans-serif" font-size="7.4" fill="#0c0c0c" stroke="#0c0c0c" stroke-width="0.3">0</text>
<text transform="translate(358.67 207.70) scale(0.9049 1)" font-family="Liberation Sans, sans-serif" font-size="7.6" fill="#0c0c0c" stroke="#0c0c0c" stroke-width="0.3">10</text>
<text transform="translate(366.18 203.70) scale(1.0667 1)" font-family="Liberation Sans, sans-serif" font-size="7.4" fill="#0c0c0c" stroke="#0c0c0c" stroke-width="0.3">1</text>
<text transform="translate(407.74 207.70) scale(0.9049 1)" font-family="Liberation Sans, sans-serif" font-size="7.6" fill="#0c0c0c" stroke="#0c0c0c" stroke-width="0.3">10</text>
<text transform="translate(415.47 203.70) scale(1.0074 1)" font-family="Liberation Sans, sans-serif" font-size="7.4" fill="#0c0c0c" stroke="#0c0c0c" stroke-width="0.3">2</text>
<text transform="translate(458.02 207.70) scale(0.9049 1)" font-family="Liberation Sans, sans-serif" font-size="7.6" fill="#0c0c0c" stroke="#0c0c0c" stroke-width="0.3">10</text>
<text transform="translate(465.89 203.70) scale(0.9544 1)" font-family="Liberation Sans, sans-serif" font-size="7.4" fill="#0c0c0c" stroke="#0c0c0c" stroke-width="0.3">3</text>
<text transform="translate(506.39 207.70) scale(0.9049 1)" font-family="Liberation Sans, sans-serif" font-size="7.6" fill="#0c0c0c" stroke="#0c0c0c" stroke-width="0.3">10</text>
<text transform="translate(514.33 203.70) scale(0.9220 1)" font-family="Liberation Sans, sans-serif" font-size="7.4" fill="#0c0c0c" stroke="#0c0c0c" stroke-width="0.3">4</text>
<text transform="translate(453.25 101.20) scale(1.0203 1)" font-family="Liberation Sans, sans-serif" font-size="31.0" font-weight="bold" fill="#0c0c0c" stroke="#0c0c0c" stroke-width="0.3">48h</text>
<line x1="335.3" y1="14.0" x2="335.3" y2="110.0" stroke="#0c0c0c" stroke-width="1.25"/>
<path d="M335.3 118.0 L332.0 106.2 L338.6 106.2 Z" fill="#0c0c0c"/>
<line x1="352.8" y1="29.0" x2="352.8" y2="110.0" stroke="#0c0c0c" stroke-width="1.25"/>
<path d="M352.8 118.0 L349.5 106.2 L356.1 106.2 Z" fill="#0c0c0c"/>
<line x1="383.4" y1="52.5" x2="383.4" y2="110.0" stroke="#0c0c0c" stroke-width="1.25"/>
<path d="M383.4 118.0 L380.1 106.2 L386.7 106.2 Z" fill="#0c0c0c"/>
<text transform="translate(337.19 9.20) scale(0.9874 1)" font-family="Liberation Sans, sans-serif" font-size="10.6" font-weight="bold" fill="#0c0c0c" stroke="#0c0c0c" stroke-width="0.3">anti-IgM Ab + IL4</text>
<text transform="translate(354.19 24.10) scale(0.9967 1)" font-family="Liberation Sans, sans-serif" font-size="10.6" font-weight="bold" fill="#0c0c0c" stroke="#0c0c0c" stroke-width="0.3">anti-IgM Ab</text>
<text transform="translate(388.13 53.30) scale(0.9813 1)" font-family="Liberation Sans, sans-serif" font-size="10.6" font-weight="bold" fill="#0c0c0c" stroke="#0c0c0c" stroke-width="0.3">medium</text>
</g>
<g id="panelB">
<line x1="41.1" y1="286.6" x2="41.1" y2="547.1" stroke="#0c0c0c" stroke-width="1.4"/>
<line x1="41.5" y1="460.35" x2="163.0" y2="460.35" stroke="#0c0c0c" stroke-width="1.3"/>
<line x1="37.1" y1="546.6" x2="41.5" y2="546.6" stroke="#0c0c0c" stroke-width="1.2"/>
<text transform="translate(18.16 550.60) scale(0.9967 1)" font-family="Liberation Sans, sans-serif" font-size="11.2" font-weight="bold" fill="#0c0c0c" stroke="#0c0c0c" stroke-width="0.3">-40</text>
<line x1="37.1" y1="503.4" x2="41.5" y2="503.4" stroke="#0c0c0c" stroke-width="1.2"/>
<text transform="translate(18.16 507.35) scale(0.9967 1)" font-family="Liberation Sans, sans-serif" font-size="11.2" font-weight="bold" fill="#0c0c0c" stroke="#0c0c0c" stroke-width="0.3">-20</text>
<line x1="37.1" y1="460.1" x2="41.5" y2="460.1" stroke="#0c0c0c" stroke-width="1.2"/>
<text transform="translate(27.96 464.10) scale(1.0165 1)" font-family="Liberation Sans, sans-serif" font-size="11.2" font-weight="bold" fill="#0c0c0c" stroke="#0c0c0c" stroke-width="0.3">0</text>
<line x1="37.1" y1="416.9" x2="41.5" y2="416.9" stroke="#0c0c0c" stroke-width="1.2"/>
<text transform="translate(21.21 420.85) scale(1.0495 1)" font-family="Liberation Sans, sans-serif" font-size="11.2" font-weight="bold" fill="#0c0c0c" stroke="#0c0c0c" stroke-width="0.3">20</text>
<line x1="37.1" y1="373.6" x2="41.5" y2="373.6" stroke="#0c0c0c" stroke-width="1.2"/>
<text transform="translate(21.41 377.60) scale(1.0328 1)" font-family="Liberation Sans, sans-serif" font-size="11.2" font-weight="bold" fill="#0c0c0c" stroke="#0c0c0c" stroke-width="0.3">40</text>
<line x1="37.1" y1="330.4" x2="41.5" y2="330.4" stroke="#0c0c0c" stroke-width="1.2"/>
<text transform="translate(21.21 334.35) scale(1.0495 1)" font-family="Liberation Sans, sans-serif" font-size="11.2" font-weight="bold" fill="#0c0c0c" stroke="#0c0c0c" stroke-width="0.3">60</text>
<line x1="37.1" y1="287.1" x2="41.5" y2="287.1" stroke="#0c0c0c" stroke-width="1.2"/>
<text transform="translate(21.21 291.10) scale(1.0495 1)" font-family="Liberation Sans, sans-serif" font-size="11.2" font-weight="bold" fill="#0c0c0c" stroke="#0c0c0c" stroke-width="0.3">80</text>
<line x1="40.8" y1="552.5" x2="163.9" y2="552.5" stroke="#0c0c0c" stroke-width="1.5"/>
<line x1="41.5" y1="552.5" x2="41.5" y2="555.9" stroke="#0c0c0c" stroke-width="1.2"/>
<line x1="50.2" y1="552.5" x2="50.2" y2="554.8" stroke="#0c0c0c" stroke-width="1.2"/>
<line x1="58.9" y1="552.5" x2="58.9" y2="554.8" stroke="#0c0c0c" stroke-width="1.2"/>
<line x1="67.7" y1="552.5" x2="67.7" y2="555.9" stroke="#0c0c0c" stroke-width="1.2"/>
<line x1="76.4" y1="552.5" x2="76.4" y2="554.8" stroke="#0c0c0c" stroke-width="1.2"/>
<line x1="85.1" y1="552.5" x2="85.1" y2="554.8" stroke="#0c0c0c" stroke-width="1.2"/>
<line x1="93.8" y1="552.5" x2="93.8" y2="555.9" stroke="#0c0c0c" stroke-width="1.2"/>
<line x1="102.5" y1="552.5" x2="102.5" y2="554.8" stroke="#0c0c0c" stroke-width="1.2"/>
<line x1="111.2" y1="552.5" x2="111.2" y2="554.8" stroke="#0c0c0c" stroke-width="1.2"/>
<line x1="119.9" y1="552.5" x2="119.9" y2="555.9" stroke="#0c0c0c" stroke-width="1.2"/>
<line x1="128.7" y1="552.5" x2="128.7" y2="554.8" stroke="#0c0c0c" stroke-width="1.2"/>
<line x1="137.4" y1="552.5" x2="137.4" y2="554.8" stroke="#0c0c0c" stroke-width="1.2"/>
<line x1="146.1" y1="552.5" x2="146.1" y2="555.9" stroke="#0c0c0c" stroke-width="1.2"/>
<line x1="154.8" y1="552.5" x2="154.8" y2="554.8" stroke="#0c0c0c" stroke-width="1.2"/>
<line x1="163.5" y1="552.5" x2="163.5" y2="554.8" stroke="#0c0c0c" stroke-width="1.2"/>
<text transform="translate(40.71 569.90) scale(0.8976 1)" font-family="Liberation Sans, sans-serif" font-size="10.8" font-weight="bold" fill="#0c0c0c" stroke="#0c0c0c" stroke-width="0.25">0</text>
<text transform="translate(63.37 569.90) scale(0.9944 1)" font-family="Liberation Sans, sans-serif" font-size="10.8" font-weight="bold" fill="#0c0c0c" stroke="#0c0c0c" stroke-width="0.25">15</text>
<text transform="translate(89.96 569.90) scale(0.9724 1)" font-family="Liberation Sans, sans-serif" font-size="10.8" font-weight="bold" fill="#0c0c0c" stroke="#0c0c0c" stroke-width="0.25">30</text>
<text transform="translate(116.17 569.90) scale(0.9514 1)" font-family="Liberation Sans, sans-serif" font-size="10.8" font-weight="bold" fill="#0c0c0c" stroke="#0c0c0c" stroke-width="0.25">45</text>
<text transform="translate(142.13 569.90) scale(0.9832 1)" font-family="Liberation Sans, sans-serif" font-size="10.8" font-weight="bold" fill="#0c0c0c" stroke="#0c0c0c" stroke-width="0.25">60</text>
<text transform="translate(69.37 583.60) scale(1.0010 1)" font-family="Liberation Sans, sans-serif" font-size="12.3" font-weight="bold" fill="#0c0c0c" stroke="#0c0c0c" stroke-width="0.25">Time (sec)</text>
<text transform="translate(13.30 536.74) rotate(-90) scale(0.9399 1)" font-family="Liberation Sans, sans-serif" font-size="14.8" font-weight="bold" fill="#0c0c0c" stroke="#0c0c0c" stroke-width="0.25">Intracellular F-actin (% MFI changes)</text>
<text transform="translate(47.57 302.80) scale(1.1455 1)" font-family="Liberation Sans, sans-serif" font-size="18.6" font-weight="bold" fill="#0c0c0c" stroke="#0c0c0c" stroke-width="0.3">MIP-3</text>
<text transform="translate(104.0 302.9) scale(1.16 1)" font-family="DejaVu Sans, Liberation Sans, sans-serif" font-size="17.8" fill="#0c0c0c">α</text>
<path d="M41.5 460.1 L67.7 332.5 L93.8 381.2 L119.9 341.2 L146.1 365.0" fill="none" stroke="#0c0c0c" stroke-width="1.6" stroke-linejoin="round"/>
<path d="M41.5 460.1 L67.7 388.7 L93.8 421.2 L119.9 406.0 L146.1 483.9" fill="none" stroke="#0c0c0c" stroke-width="1.6" stroke-linejoin="round"/>
<path d="M41.5 460.1 L67.7 463.3 L93.8 470.9 L119.9 460.1 L146.1 501.2" fill="none" stroke="#0c0c0c" stroke-width="1.6" stroke-linejoin="round"/>
<path d="M41.5 460.1 L67.7 453.6 L93.8 468.8 L119.9 496.9 L146.1 468.8" fill="none" stroke="#0c0c0c" stroke-width="1.6" stroke-linejoin="round"/>
<rect x="64.5" y="329.3" width="6.4" height="6.4" fill="#0c0c0c"/>
<rect x="90.6" y="378.0" width="6.4" height="6.4" fill="#0c0c0c"/>
<rect x="116.7" y="338.0" width="6.4" height="6.4" fill="#0c0c0c"/>
<rect x="142.9" y="361.8" width="6.4" height="6.4" fill="#0c0c0c"/>
<circle cx="67.7" cy="388.7" r="3.4" fill="#0c0c0c"/>
<circle cx="93.8" cy="421.2" r="3.4" fill="#0c0c0c"/>
<circle cx="119.9" cy="406.0" r="3.4" fill="#0c0c0c"/>
<circle cx="146.1" cy="483.9" r="3.4" fill="#0c0c0c"/>
<rect x="38.7" y="457.3" width="5.6" height="5.6" fill="#fff" stroke="#0c0c0c" stroke-width="1.2"/>
<rect x="64.9" y="460.5" width="5.6" height="5.6" fill="#fff" stroke="#0c0c0c" stroke-width="1.2"/>
<rect x="91.0" y="468.1" width="5.6" height="5.6" fill="#fff" stroke="#0c0c0c" stroke-width="1.2"/>
<rect x="117.1" y="457.3" width="5.6" height="5.6" fill="#fff" stroke="#0c0c0c" stroke-width="1.2"/>
<rect x="143.3" y="498.4" width="5.6" height="5.6" fill="#fff" stroke="#0c0c0c" stroke-width="1.2"/>
<circle cx="41.5" cy="460.1" r="3.0" fill="#fff" stroke="#0c0c0c" stroke-width="1.2"/>
<circle cx="67.7" cy="453.6" r="3.0" fill="#fff" stroke="#0c0c0c" stroke-width="1.2"/>
<circle cx="93.8" cy="468.8" r="3.0" fill="#fff" stroke="#0c0c0c" stroke-width="1.2"/>
<circle cx="119.9" cy="496.9" r="3.0" fill="#fff" stroke="#0c0c0c" stroke-width="1.2"/>
<circle cx="146.1" cy="468.8" r="3.0" fill="#fff" stroke="#0c0c0c" stroke-width="1.2"/>
<rect x="167.6" y="286.4" width="164.4" height="76.9" fill="#fff" stroke="#0c0c0c" stroke-width="1.2"/>
<line x1="177.3" y1="300.8" x2="220.2" y2="300.8" stroke="#0c0c0c" stroke-width="1.5"/>
<rect x="197.1" y="297.9" width="5.8" height="5.8" fill="#0c0c0c"/>
<text transform="translate(226.63 304.60) scale(0.9723 1)" font-family="Liberation Sans, sans-serif" font-size="10.6" font-weight="bold" fill="#0c0c0c" stroke="#0c0c0c" stroke-width="0.3">none</text>
<line x1="177.3" y1="318.1" x2="220.2" y2="318.1" stroke="#0c0c0c" stroke-width="1.5"/>
<circle cx="200.0" cy="318.1" r="3.1" fill="#0c0c0c"/>
<text transform="translate(227.00 321.90) scale(0.9649 1)" font-family="Liberation Sans, sans-serif" font-size="10.6" font-weight="bold" fill="#0c0c0c" stroke="#0c0c0c" stroke-width="0.3">anti-IgM Ab</text>
<line x1="177.3" y1="334.8" x2="220.2" y2="334.8" stroke="#0c0c0c" stroke-width="1.5"/>
<rect x="197.5" y="332.3" width="5.0" height="5.0" fill="#fff" stroke="#0c0c0c" stroke-width="1.2"/>
<text transform="translate(226.99 338.60) scale(0.9875 1)" font-family="Liberation Sans, sans-serif" font-size="10.6" font-weight="bold" fill="#0c0c0c" stroke="#0c0c0c" stroke-width="0.3">anti-IgM +CD40 Abs</text>
<line x1="177.3" y1="349.6" x2="220.2" y2="349.6" stroke="#0c0c0c" stroke-width="1.5"/>
<circle cx="200.0" cy="349.6" r="2.7" fill="#fff" stroke="#0c0c0c" stroke-width="1.2"/>
<text transform="translate(227.00 353.40) scale(0.9564 1)" font-family="Liberation Sans, sans-serif" font-size="10.6" font-weight="bold" fill="#0c0c0c" stroke="#0c0c0c" stroke-width="0.3">anti-IgM Ab+IL4</text>
</g>
</svg>
</body></html>
